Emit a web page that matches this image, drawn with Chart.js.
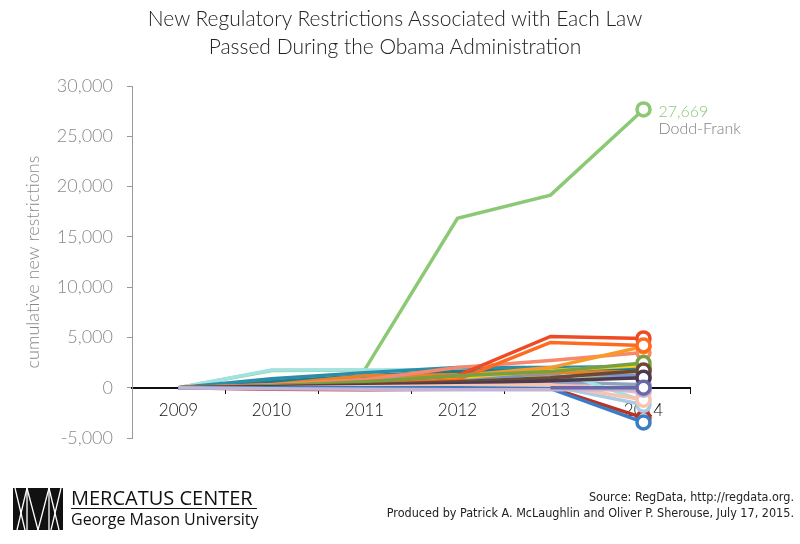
<!DOCTYPE html>
<html>
<head>
<meta charset="utf-8">
<script src="https://cdn.jsdelivr.net/npm/chart.js@4"></script>
<style>
  body { margin: 0; width: 800px; height: 544px; background: #fff; position: relative; overflow: hidden; font-family: Lato, sans-serif; }
  #wrap { position: absolute; left: 0; top: 0; width: 800px; height: 544px; }
  .title { position: absolute; left: 0; width: 790px; text-align: center; font-weight: 300; font-size: 21px; color: #222; }
  .src { position: absolute; right: 6px; font-family: "Liberation Sans Narrow", "DejaVu Sans Condensed", sans-serif; font-size: 12.5px; color: #222; text-align: right; }
  .logo1 { position: absolute; left: 71px; top: 484px; font-family: "Open Sans", sans-serif; font-size: 20px; color: #111; }
  .logo2 { position: absolute; left: 71px; top: 508px; font-family: "Open Sans", sans-serif; font-size: 16px; color: #111; }
  .rule { position: absolute; left: 71px; top: 508px; width: 186px; height: 1px; background: #111; }
</style>
</head>
<body>
<div id="wrap"><canvas id="chart"></canvas></div>
<div class="title" style="top:5px">New Regulatory Restrictions Associated with Each Law</div>
<div class="title" style="top:33px">Passed During the Obama Administration</div>
<svg style="position:absolute;left:13px;top:488px" width="50" height="42" viewBox="0 0 50 42">
  <rect x="0" y="0" width="50" height="42" fill="#111"/>
  <g stroke="#fff" stroke-width="1.3" fill="none">
    <line x1="2" y1="0" x2="12" y2="42"/>
    <line x1="14" y1="0" x2="4" y2="42"/>
    <line x1="14" y1="0" x2="25" y2="42"/>
    <line x1="36" y1="0" x2="25" y2="42"/>
    <line x1="36" y1="0" x2="46" y2="42"/>
    <line x1="48" y1="0" x2="38" y2="42"/>
    <line x1="14" y1="0" x2="14" y2="42"/>
    <line x1="36" y1="0" x2="36" y2="42"/>
  </g>
</svg>
<div class="logo1">MERCATUS CENTER</div>
<div class="rule"></div>
<div class="logo2">George Mason University</div>
<div class="src" style="top:489px">Source: RegData, http://regdata.org.</div>
<div class="src" style="top:505px">Produced by Patrick A. McLaughlin and Oliver P. Sherouse, July 17, 2015.</div>
<script>
const years = ["2009", "2010", "2011", "2012", "2013", "2014"]
const yTicks = [-5000, 0, 5000, 10000, 15000, 20000, 25000, 30000]

// cumulative new restrictions per law, 2009-2014
const lightCyan  = [0, 1750, 1750, 1800, 1850, -1300]
const teal       = [0, 900, 1500, 2000, 2000, 2100]
const darkTeal   = [0, 600, 1200, 1600, 1800, 1900]
const skyBlue    = [0, 500, 900, 1500, 1700, 1800]
const orange     = [0, 300, 1200, 1300, 1500, 1600]
const salmon     = [0, 300, 800, 2000, 2700, 3500]
const orange2    = [0, 100, 400, 1200, 2000, 4100]
const yellow     = [0, 0, 200, 1000, 1700, 2200]
const olive      = [0, 200, 600, 1200, 1600, 2450]
const lightGreen = [0, 200, 500, 900, 1100, 1300]
const brown      = [0, 100, 300, 600, 1000, 1700]
const mauve      = [0, 400, 700, 800, 900, 1000]
const periwinkle = [0, 300, 600, 900, 1400, 1200]
const grayBlue   = [0, 200, 400, 500, 600, 300]
const darkPurple = [0, 100, 200, 400, 700, 1000]
const lightPink  = [0, 100, 200, 400, 500, -500]
const peach      = [0, 0, 100, 200, 300, -1200]
const lightBlue  = [0, 0, 0, 100, 200, -1700]
const darkRed    = [0, -150, -200, -150, 0, -3000]
const blue       = [0, 0, 0, 0, -100, -3450]
const lavender   = [0, -100, -150, -200, -200, -200]
const red        = [0, 200, 500, 1200, 5100, 4900]
const orangeRed  = [0, 100, 300, 800, 4500, 4200]
const indigo     = [null, null, null, null, 0, 0]
const doddFrank  = [0, 1700, 1750, 16850, 19150, 27669]

// first entry is drawn on top
const series = [
  [indigo, "#6b68a8"], [lavender, "#c4b3d4"], [blue, "#3b7dc4"], [peach, "#f8c4ad"],
  [lightBlue, "#a9cbe6"], [darkPurple, "#4d3a50"], [brown, "#6a4a35"], [olive, "#78a040"],
  [orangeRed, "#ff6a21"], [red, "#ee4a23"], [orange2, "#f89a2a"], [yellow, "#f3cf1f"],
  [salmon, "#f6896b"], [orange, "#e8822a"], [teal, "#2b8ea8"], [darkTeal, "#1f7a8c"],
  [skyBlue, "#5bb5dc"], [lightCyan, "#a2e2e2"], [doddFrank, "#8cc975"], [periwinkle, "#7b93cc"],
  [lightGreen, "#b5d88a"], [mauve, "#9b6fa0"], [grayBlue, "#8fa3bd"], [lightPink, "#f4b8c0"],
  [darkRed, "#b83225"]
]

const endLabel = {
  id: "endLabel",
  afterDatasetsDraw(chart) {
    const { ctx } = chart
    const idx = series.findIndex(s => s[0] === doddFrank)
    const meta = chart.getDatasetMeta(idx)
    const pt = meta.data[meta.data.length - 1]
    ctx.save()
    ctx.font = "300 16px Lato"
    ctx.textAlign = "left"
    ctx.textBaseline = "middle"
    ctx.fillStyle = "#8cc975"
    ctx.fillText("27,669", pt.x + 15, pt.y + 2)
    ctx.fillStyle = "#808080"
    ctx.fillText("Dodd-Frank", pt.x + 15, pt.y + 19)
    ctx.restore()
  }
}

const chart = new Chart(document.getElementById("chart"), {
  type: "line",
  plugins: [endLabel],
  data: {
    labels: years,
    datasets: series.map(([vals, col]) => ({
      data: vals,
      borderColor: col,
      backgroundColor: "#fff",
      borderWidth: 3.5,
      pointRadius: vals.map((v, i) => i === vals.length - 1 ? 6.5 : 0),
      pointBorderWidth: 3.5,
      pointHoverRadius: 0,
      tension: 0
    }))
  },
  options: {
    responsive: true,
    maintainAspectRatio: false,
    animation: false,
    layout: { padding: { left: 0, top: 86, right: 110, bottom: 106 } },
    plugins: { legend: { display: false }, tooltip: { enabled: false } },
    scales: {
      x: {
        position: { y: 0 },
        offset: true,
        grid: { drawOnChartArea: false, color: "#111", tickLength: 5, offset: true },
        border: { color: "#111", width: 2 },
        ticks: { color: "#111", font: { family: "Lato", size: 17, weight: 300 }, padding: 8 }
      },
      y: {
        min: -5000,
        max: 30000,
        afterFit: s => { s.width = 132 },
        afterBuildTicks: s => { s.ticks = yTicks.map(v => ({ value: v })) },
        grid: { drawOnChartArea: false, color: "#999", tickLength: 5 },
        border: { color: "#999", width: 1 },
        ticks: {
          color: "#888",
          padding: 14,
          font: { family: "Lato", size: 18, weight: 300 },
          callback: v => v.toLocaleString("en-US")
        },
        title: { display: true, text: "cumulative new restrictions", color: "#888", font: { family: "Lato", size: 18, weight: 300 }, padding: { top: 22, bottom: 0 } }
      }
    }
  }
})
</script>
</body>
</html>
